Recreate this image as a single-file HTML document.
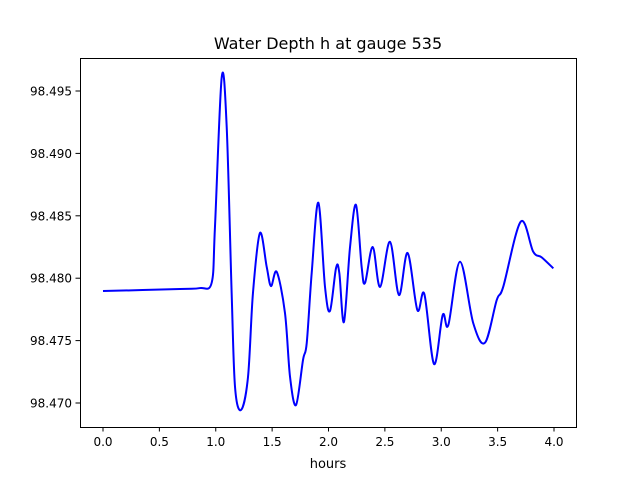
<!DOCTYPE html>
<html><head><meta charset="utf-8"><style>
body{margin:0;background:#fff;}
svg{font-family:"DejaVu Sans","Liberation Sans",sans-serif;}
</style></head><body>
<svg id="chart" width="640" height="480">
<rect x="0" y="0" width="640" height="480" fill="#fff"/>
<text x="328" y="49" font-size="16" text-anchor="middle">Water Depth h at gauge 535</text>
<g id="ticks"></g>
<path id="line" fill="none" stroke="#0000ff" stroke-width="2" stroke-linejoin="round"/>
<rect x="80.5" y="58.5" width="496" height="369" fill="none" stroke="#000" stroke-width="1"/>
<text x="328" y="468" font-size="13" text-anchor="middle">hours</text>
</svg>
<script>
const hours=[0,0.683,0.860,0.964,0.993,1.053,1.097,1.141,1.171,1.224,1.286,1.330,1.392,1.452,1.490,1.541,1.614,1.659,1.712,1.774,1.807,1.851,1.910,1.969,2.013,2.067,2.096,2.137,2.191,2.244,2.294,2.324,2.392,2.457,2.545,2.625,2.702,2.788,2.850,2.936,3.013,3.063,3.166,3.284,3.388,3.492,3.550,3.705,3.816,3.891,3.994];
const depth=[98.47897,98.47913,98.47921,98.47964,98.48410,98.49610,98.49214,98.47881,98.47128,98.46944,98.47208,98.47881,98.48362,98.48090,98.47937,98.48050,98.47721,98.47208,98.46984,98.47345,98.47481,98.48042,98.48605,98.47930,98.47737,98.48082,98.48042,98.47649,98.48250,98.48587,98.48090,98.47962,98.48250,98.47930,98.48292,98.47865,98.48202,98.47745,98.47873,98.47312,98.47705,98.47625,98.48132,98.47639,98.47483,98.47825,98.47932,98.48453,98.48212,98.48167,98.48079];
const xTicks=[0,0.5,1,1.5,2,2.5,3,3.5,4];
const xTickLabels=["0.0","0.5","1.0","1.5","2.0","2.5","3.0","3.5","4.0"];
const yTicks=[98.470,98.475,98.480,98.485,98.490,98.495];
const yTickLabels=["98.470","98.475","98.480","98.485","98.490","98.495"];
const X=h=>103+h*112.75;
const Y=v=>91+(98.495-v)/0.005*62.4;
const NS="http://www.w3.org/2000/svg";
const g=document.getElementById('ticks');
function el(t,a){const e=document.createElementNS(NS,t);for(const k in a)e.setAttribute(k,a[k]);g.appendChild(e);return e;}
xTicks.forEach((t,i)=>{const x=X(t);
 const l=el('line',{x1:x,x2:x,y1:427,y2:431.5,stroke:'#000'});
 
 
 const tx=el('text',{x:x,y:446,'font-size':12,'text-anchor':'middle'});tx.textContent=xTickLabels[i];
 
 
});
yTicks.forEach((t,i)=>{const y=Y(t);
 const l=el('line',{x1:75.5,x2:80,y1:y,y2:y,stroke:'#000'});
 
 
 const tx=el('text',{x:72,y:y+4.5,'font-size':12,'text-anchor':'end'});tx.textContent=yTickLabels[i];
 
 
});
const P=hours.map((h,i)=>[X(h),Y(depth[i])]);
let d='M'+P[0][0]+','+P[0][1];
for(let i=0;i<P.length-1;i++){
 const p0=P[Math.max(0,i-1)],p1=P[i],p2=P[i+1],p3=P[Math.min(P.length-1,i+2)];
 const t=6;
 const c1=[p1[0]+(p2[0]-p0[0])/t,p1[1]+(p2[1]-p0[1])/t];
 const c2=[p2[0]-(p3[0]-p1[0])/t,p2[1]-(p3[1]-p1[1])/t];
 d+=' C'+c1+' '+c2+' '+p2;
}
document.getElementById('line').setAttribute('d',d);
</script>
</body></html>
